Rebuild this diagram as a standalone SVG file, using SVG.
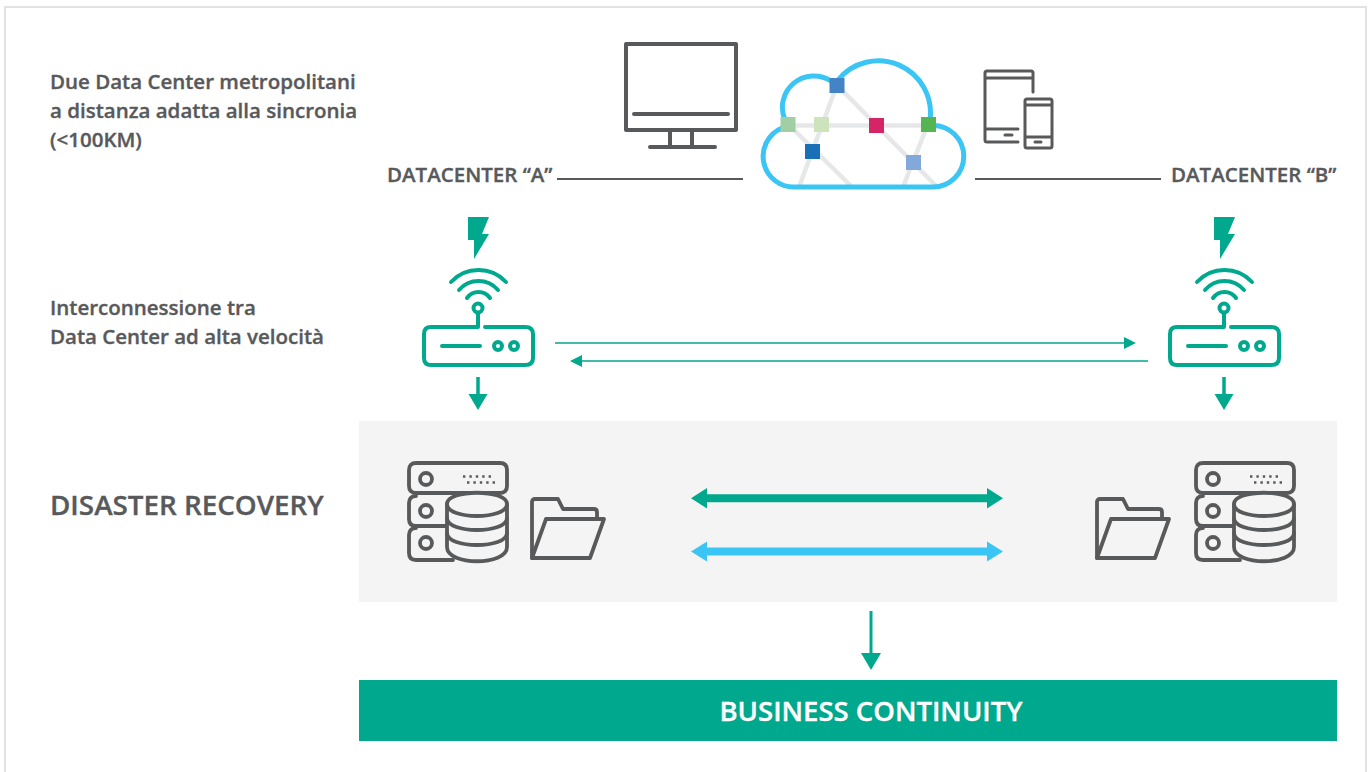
<svg xmlns="http://www.w3.org/2000/svg" width="1370" height="772" viewBox="0 0 1370 772">
<style>
text{font-family:"Open Sans","Noto Sans","Liberation Sans",sans-serif;font-weight:600;fill:#58595b;stroke:#58595b;stroke-width:.35px;font-size:20.500px}
.g{fill:none;stroke:#58595b;stroke-width:3.800;stroke-linecap:round;stroke-linejoin:round}
.t{fill:none;stroke:#00a88e;stroke-width:4;stroke-linecap:round;stroke-linejoin:round}
.tf{fill:#00a88e}
.gl{stroke:#e6e7e8;stroke-width:4.500;fill:none}
</style>
<defs>
<g id="router">
<path class="t" d="M-27 -45A37.500 37.500 0 0 1 28 -45M-19 -37A25.600 25.600 0 0 1 20 -37M-11 -29A14 14 0 0 1 12 -29"/>
<circle class="t" cx="0" cy="-19" r="4.500"/>
<path class="t" d="M0 -14V0H-47Q-54 0-54 7V31Q-54 38-47 38H47Q55 38 55 31V7Q55 0 47 0H7"/>
<path class="t" d="M-36 19H2"/>
<circle class="t" cx="20" cy="19" r="4"/><circle class="t" cx="36" cy="19" r="4"/>
<path d="M0 50V68" stroke="#00a88e" stroke-width="3.500" fill="none"/>
<path class="tf" d="M-9.500 67H9.500L0 83Z"/>
</g>
<path id="bolt" class="tf" d="M-10 0H11L4 17H11L-4 42V23H-10Z"/>
<g id="server">
<path class="g" d="M7 0H91Q98 0 98 7V23Q98 30 91 30H7Q0 30 0 23V7Q0 0 7 0Z"/>
<path class="g" d="M7 33Q0 33 0 40V56Q0 63 7 63H38"/>
<path class="g" d="M7 65Q0 65 0 72V90Q0 97 7 97H44"/>
<circle class="g" cx="17" cy="16" r="6"/><circle class="g" cx="17" cy="48" r="6"/><circle class="g" cx="17" cy="80" r="6"/>
<path d="M54 13.500h32M58 19.500h32" stroke="#58595b" stroke-width="2.400" stroke-dasharray="2.400 4" fill="none"/>
<path class="g" style="fill:#f4f4f4" d="M38 41C38 26 98 26 98 41V84C98 103 38 103 38 84Z"/>
<path class="g" d="M38 41C38 57 98 57 98 41M38 55C38 71 98 71 98 55M38 70C38 86 98 86 98 70"/>
</g>
<g id="folder">
<path class="g" d="M0 59V3Q0 0 3 0H26L31 10H62Q65 10 65 13V20"/>
<path class="g" d="M0 59L14 20H72L58 59Z"/>
</g>
</defs>
<rect x="5" y="7" width="1361" height="790" fill="#fff" stroke="#e2e2e2" stroke-width="2"/>
<g id="panel-dr"><rect x="359" y="421" width="978" height="181" fill="#f4f4f4"/></g>
<g id="label-metro"><text x="50" y="89">Due Data Center metropolitani</text><text x="50" y="118">a distanza adatta alla sincronia</text><text x="50" y="147">(&lt;100KM)</text></g>
<g id="label-inter"><text x="50" y="315">Interconnessione tra</text><text x="50" y="344">Data Center ad alta velocità</text></g>
<g id="label-dr"><text x="50" y="515" style="font-size:27.800px">DISASTER RECOVERY</text></g>
<g id="datacenter-a"><text x="387" y="182">DATACENTER “A”</text></g>
<g id="datacenter-b"><text x="1171" y="182">DATACENTER “B”</text></g>
<g id="monitor"><path class="g" style="stroke-width:4" d="M626 44H736V130H626Z"/><path class="g" style="stroke-width:4" d="M634 114H728M670 131V146M692 131V146M650 147H715"/></g>
<g id="devices">
<path class="g" style="stroke-width:3" d="M1033 92V73Q1033 71 1031 71H987Q985 71 985 73V140Q985 142 987 142H1018M986 78H1032M986 129H1018M1005 135H1012"/>
<rect class="g" style="stroke-width:3" x="1025" y="99" width="27" height="49" rx="2"/>
<path class="g" style="stroke-width:3" d="M1026 105H1051M1026 137H1051M1035 142H1041"/>
</g>
<g id="cloud">
<path class="gl" d="M788 125.500H928M837 85L799 187M837 85L937 187M928 124L903 187M788 124L852 187"/>
<path fill="none" stroke="#3ac5f5" stroke-width="5" d="M795 187H933A30.750 30.750 0 0 0 933 125.500H928M930 120A52.100 52.100 0 0 0 838 80M831 81A31.500 31.500 0 0 0 785 120M782 128A30.700 30.700 0 0 0 795 187"/>
<rect x="829.500" y="78" width="15" height="15" fill="#4384c6"/>
<rect x="780.500" y="117" width="15" height="15" fill="#a1cea3"/>
<rect x="814" y="117" width="15" height="15" fill="#cce3bb"/>
<rect x="869" y="118" width="15" height="15" fill="#d52566"/>
<rect x="921" y="117" width="15" height="15" fill="#55b552"/>
<rect x="805" y="144" width="15" height="15" fill="#1a70b7"/>
<rect x="906" y="155" width="15" height="15" fill="#82a9da"/>
</g>
<g id="bolt-a"><use href="#bolt" x="478" y="217"/></g>
<g id="bolt-b"><use href="#bolt" x="1224" y="217"/></g>
<g id="router-a"><use href="#router" x="478" y="327"/></g>
<g id="router-b"><use href="#router" x="1224" y="327"/></g>
<g id="server-a"><use href="#server" x="409" y="463"/></g>
<g id="server-b"><use href="#server" x="1196" y="463"/></g>
<g id="folder-a"><use href="#folder" x="532" y="499"/></g>
<g id="folder-b"><use href="#folder" x="1097" y="499"/></g>
<g id="connectors">
<path d="M557 179H743M975 179H1161" stroke="#58595b" stroke-width="2" fill="none"/>
<path d="M555 343H1125M1148 361H580" stroke="#00a88e" stroke-width="1.500" fill="none"/>
<path class="tf" d="M1136 343L1124 337V349ZM570 361L582 355V367Z"/>
<path d="M705 498.300H990" stroke="#00a88e" stroke-width="8" fill="none"/>
<path class="tf" d="M691 498.300L707 488V508.600ZM1003 498.300L987 488V508.600Z"/>
<path d="M705 551.500H990" stroke="#3ac5f5" stroke-width="8" fill="none"/>
<path d="M691 551.500L707 541.500V561.500ZM1003 551.500L987 541.500V561.500Z" fill="#3ac5f5"/>
<path d="M871 611V655" stroke="#00a88e" stroke-width="3" fill="none"/>
<path class="tf" d="M861 653H881L871 670Z"/>
</g>
<g id="business-continuity"><rect x="359" y="680" width="978" height="61" fill="#00a88e"/><text x="871" y="721" text-anchor="middle" style="font-size:27.500px;fill:#fff;stroke:#fff">BUSINESS CONTINUITY</text></g>
</svg>
